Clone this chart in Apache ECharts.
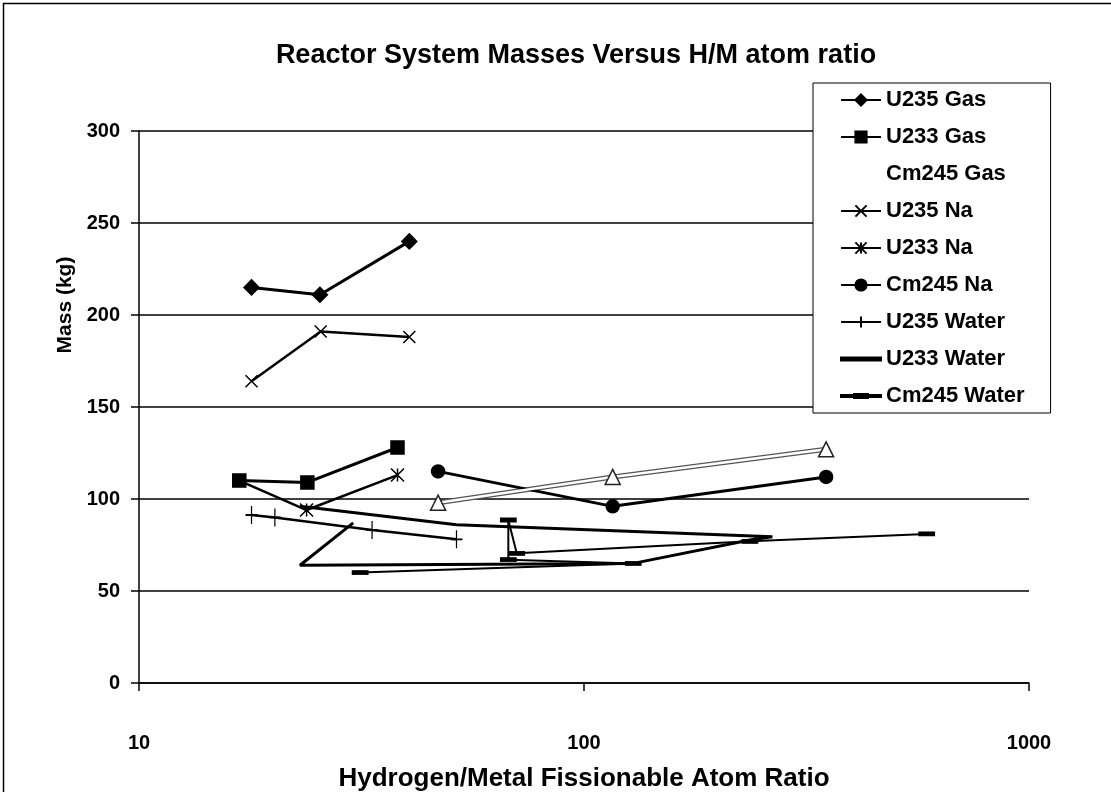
<!DOCTYPE html>
<html>
<head>
<meta charset="utf-8">
<script src="https://cdn.jsdelivr.net/npm/echarts@6/dist/echarts.min.js"></script>
<style>
  html, body { margin: 0; padding: 0; background: #fff; }
  #chart { width: 1111px; height: 792px; }
</style>
</head>
<body>
<div id="chart"></div>
<script>
// [H/M ratio, mass kg] pairs (points joined in sheet order)
const u235Gas = [[17.9, 215], [25.5, 211], [40.5, 240]];
const u233Gas = [[16.8, 110], [23.9, 109], [38.1, 128]];
const cm245Gas = [[47, 98], [116, 112], [350, 127]];
const u235Na = [[17.9, 164], [25.6, 191], [40.5, 188]];
const u233Na = [[16.8, 110], [23.8, 94], [38.1, 113]];
const cm245Na = [[47, 115], [116, 96], [350, 112]];
const u235Water = [[17.9, 91.3], [20.2, 90], [33.4, 83.2], [51.7, 78.1]];
const u233Water = [[23, 96], [51.7, 86], [265, 79.5], [236, 77.7], [129, 65], [23, 64], [30.3, 87]];
const cm245Water = [[31.4, 60], [129, 65], [67.6, 67], [67.6, 88.6], [70.6, 70.5], [236, 77], [589, 81]];

const yTicks = [0, 50, 100, 150, 200, 250, 300];
const xTickLabels = { 10: "10", 100: "100", 1000: "1000" };

const FONT = "Liberation Sans, Arial, sans-serif";
const crossPath = "path://M0,0L10,10M10,0L0,10";
const starPath = "path://M5,0L5,10M0,0L10,10M10,0L0,10";
const plusPath = "path://M5,0L5,10M0,5L10,5";
// legend icons: plain thick line, and a line with a short dash in the middle
const thickLineIcon = "path://M0,0L40,0L40,3L0,3Z";
const dashLineIcon = "path://M0,1L40,1L40,3L0,3ZM13,0L27,0L27,4L13,4Z";

function lineSeries(name, data, extra) {
  return Object.assign({
    name: name,
    type: "line",
    data: data,
    symbolSize: 12,
    lineStyle: { color: "#000", width: 3 },
    itemStyle: { color: "#000", borderColor: "#000", borderWidth: 1.5 },
    emphasis: { disabled: true },
    z: 3,
  }, extra);
}

const chart = echarts.init(document.getElementById("chart"));

chart.setOption({
  animation: false,
  backgroundColor: "#fff",
  textStyle: { fontFamily: FONT },
  title: {
    text: "Reactor System Masses Versus H/M atom ratio",
    left: 571,
    textAlign: "center",
    top: 37,
    textStyle: { fontFamily: FONT, fontWeight: "bold", fontSize: 27, color: "#000" },
  },
  grid: { left: 139, right: 82, top: 131, bottom: 109, containLabel: false, outerBoundsMode: "none" },
  legend: {
    orient: "vertical",
    left: 813,
    top: 83,
    padding: [6, 26, 6, 27],
    itemGap: 15,
    itemWidth: 40,
    itemHeight: 14,
    backgroundColor: "#fff",
    borderColor: "#000",
    borderWidth: 1,
    textStyle: { fontFamily: FONT, fontWeight: "bold", fontSize: 22, color: "#000" },
    data: [
      "U235 Gas",
      "U233 Gas",
      { name: "Cm245 Gas", icon: "rect", itemStyle: { color: "#fff", borderWidth: 0 } },
      "U235 Na",
      "U233 Na",
      "Cm245 Na",
      "U235 Water",
      { name: "U233 Water", icon: thickLineIcon },
      { name: "Cm245 Water", icon: dashLineIcon },
    ],
  },
  xAxis: {
    type: "log",
    logBase: 10,
    min: 10,
    max: 1000,
    name: "Hydrogen/Metal Fissionable Atom Ratio",
    nameLocation: "middle",
    nameGap: 83,
    nameTextStyle: { fontFamily: FONT, fontWeight: "bold", fontSize: 26, color: "#000" },
    axisLine: { lineStyle: { color: "#000", width: 1.5 } },
    axisTick: { show: true, length: 8, lineStyle: { color: "#000", width: 1.5 } },
    axisLabel: {
      fontFamily: FONT, fontWeight: "bold", fontSize: 20, color: "#000", margin: 50,
      formatter: v => xTickLabels[Math.round(v)] || "",
    },
    splitLine: { show: false },
    minorTick: { show: false },
  },
  yAxis: {
    type: "value",
    min: yTicks[0],
    max: yTicks[yTicks.length - 1],
    interval: 50,
    name: "Mass (kg)",
    nameLocation: "middle",
    nameGap: 52,
    nameRotate: 90,
    nameTextStyle: { fontFamily: FONT, fontWeight: "bold", fontSize: 21, color: "#000", padding: [0, 0, 0, 204] },
    axisLine: { show: true, lineStyle: { color: "#000", width: 1.5 } },
    axisTick: { show: true, length: 8, lineStyle: { color: "#000", width: 1.5 } },
    axisLabel: { fontFamily: FONT, fontWeight: "bold", fontSize: 20, color: "#000", margin: 19 },
    splitLine: { show: true, lineStyle: { color: "#000", width: 1.5 } },
  },
  graphic: [
    {
      type: "rect",
      shape: { x: 3.5, y: 3.5, width: 1120, height: 800 },
      style: { fill: "none", stroke: "#000", lineWidth: 1.5 },
      silent: true,
    },
  ],
  series: [
    lineSeries("U235 Gas", u235Gas, { symbol: "diamond", symbolSize: 15 }),
    lineSeries("U233 Gas", u233Gas, { symbol: "rect", symbolSize: 13 }),
    // white line with a grey edge: a wide grey stroke under a narrow white one
    lineSeries("Cm245 Gas edge", cm245Gas, {
      symbol: "none",
      lineStyle: { color: "#555", width: 5 },
      itemStyle: { color: "#fff" },
      z: 2,
    }),
    lineSeries("Cm245 Gas", cm245Gas, {
      symbol: "triangle",
      symbolSize: 15,
      lineStyle: { color: "#fff", width: 2.5 },
      itemStyle: { color: "#fff", borderColor: "#222", borderWidth: 1.5 },
      z: 4,
    }),
    lineSeries("U235 Na", u235Na, { symbol: crossPath, symbolSize: 12, lineStyle: { color: "#000", width: 2.5 } }),
    lineSeries("U233 Na", u233Na, { symbol: starPath, symbolSize: 13, lineStyle: { color: "#000", width: 2.5 } }),
    lineSeries("Cm245 Na", cm245Na, { symbol: "circle", symbolSize: 13 }),
    lineSeries("U235 Water", u235Water, { symbol: plusPath, symbolSize: [12, 18], lineStyle: { color: "#000", width: 2.5 } }),
    lineSeries("U233 Water", u233Water, { symbol: "none", lineStyle: { color: "#000", width: 3 } }),
    lineSeries("Cm245 Water", cm245Water, { symbol: "rect", symbolSize: [14, 4], lineStyle: { color: "#000", width: 2 } }),
  ],
});
</script>
</body>
</html>
